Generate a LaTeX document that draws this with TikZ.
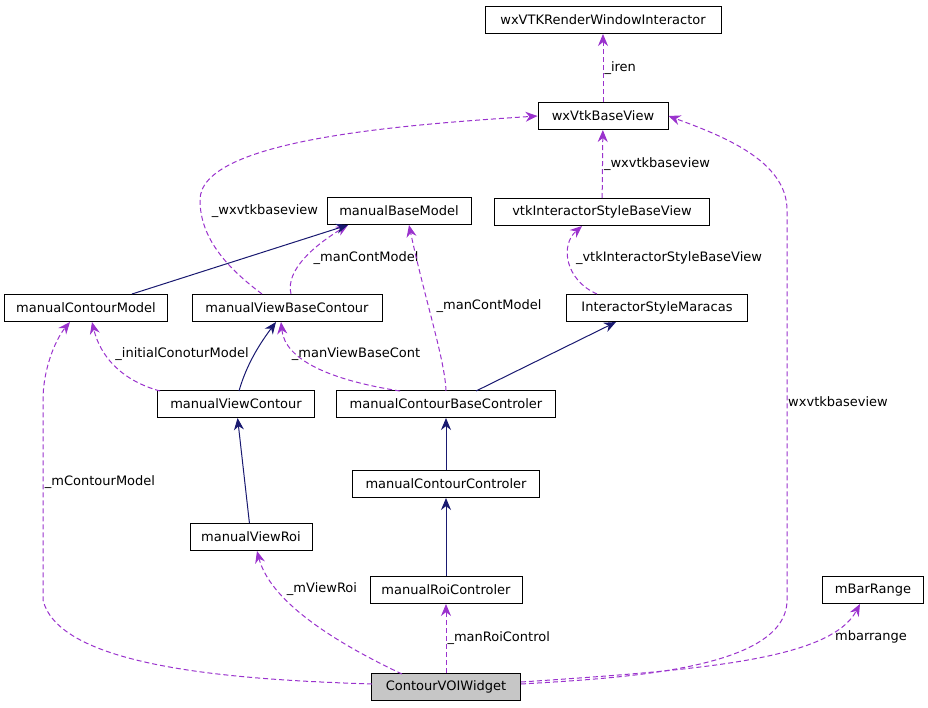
\documentclass[tikz,border=0pt]{standalone}
\usepackage{fontspec}
\setmainfont{DejaVu Sans}
\usetikzlibrary{arrows.meta}
\definecolor{pur}{RGB}{154,50,205}
\definecolor{nav}{RGB}{25,25,112}
\begin{document}
\begin{tikzpicture}[x=1pt,y=-1pt,line width=1pt,
 box/.style={draw,fill=white,inner sep=0,minimum height=27pt,font=\fontsize{13}{15}\selectfont},
 lbl/.style={font=\fontsize{13}{15}\selectfont,inner sep=1pt},
 dep/.style={color=pur,dash pattern=on 5pt off 3pt,-{Stealth[length=12pt,width=10pt]}},
 inh/.style={color=nav,-{Stealth[length=12pt,width=10pt]}}]
\useasboundingbox (0,0) rectangle (928,707);
\node[box,minimum width=236pt] (rwi) at (603,20) {wxVTKRenderWindowInteractor};
\node[box,minimum width=130pt] (bv) at (603,116) {wxVtkBaseView};
\node[box,minimum width=215pt] (isbv) at (602,212) {vtkInteractorStyleBaseView};
\node[box,minimum width=144pt] (mbm) at (399,211) {manualBaseModel};
\node[box,minimum width=163pt] (mcm) at (86,308) {manualContourModel};
\node[box,minimum width=190pt] (mvbc) at (287,308) {manualViewBaseContour};
\node[box,minimum width=181pt] (ism) at (657,308) {InteractorStyleMaracas};
\node[box,minimum width=157pt] (mvc) at (236,404) {manualViewContour};
\node[box,minimum width=219pt] (mcbc) at (446,404) {manualContourBaseControler};
\node[box,minimum width=187pt] (mcc) at (446,484) {manualContourControler};
\node[box,minimum width=122pt] (mvr) at (251,537) {manualViewRoi};
\node[box,minimum width=152pt] (mrc) at (446,590) {manualRoiControler};
\node[box,minimum width=101pt] (mbr) at (873,590) {mBarRange};
\node[box,minimum width=149pt,fill=lightgray!90] (w) at (446,687) {ContourVOIWidget};

\draw[dep] (bv) -- (rwi) node[lbl,text=black,pos=0.5,right] {\_iren};
\draw[dep] (isbv) -- (bv) node[lbl,text=black,pos=0.5,right] {\_wxvtkbaseview};
\draw[dep] (262,294) .. controls (230,270) and (200,240) .. (200,200) .. controls (200,140) and (400,125) .. (bv.west);
\node[lbl] at (265,211) {\_wxvtkbaseview};
\draw[dep] (291,294) .. controls (285,270) and (315,245) .. (348,225);
\node[lbl] at (366,258) {\_manContModel};
\draw[inh] (132,294) -- (348,225);
\draw[dep] (597,294) .. controls (565,280) and (560,245) .. (582,226);
\node[lbl] at (669,258) {\_vtkInteractorStyleBaseView};
\draw[dep] (446,391) .. controls (445,360) and (425,300) .. (409,225);
\node[lbl] at (489,306) {\_manContModel};
\draw[inh] (476,391) -- (616,322);
\draw[dep] (400,391) .. controls (330,380) and (285,360) .. (281,322);
\node[lbl] at (356,354) {\_manViewBaseCont};
\draw[inh] (239,391) .. controls (245,370) and (255,350) .. (276,322);
\draw[dep] (160,391) .. controls (120,380) and (100,355) .. (92,322);
\node[lbl] at (182,354) {\_initialConoturModel};
\draw[inh] (mcc) -- (mcbc);
\draw[inh] (mvr) -- (mvc);
\draw[inh] (mrc) -- (mcc);
\draw[dep] (w) -- (mrc) node[lbl,text=black,pos=0.5,right] {\_manRoiControl};
\draw[dep] (402,674) .. controls (330,640) and (270,600) .. (257,551);
\node[lbl] at (322,589) {\_mViewRoi};
\draw[dep] (372,684) .. controls (250,680) and (60,670) .. (43,600) -- (43,400) .. controls (43,370) and (55,340) .. (70,322);
\node[lbl] at (100,482) {\_mContourModel};
\draw[dep] (521,684) .. controls (620,678) and (787,670) .. (787,600) -- (787,210) .. controls (787,160) and (720,135) .. (bv.east);
\node[lbl] at (838,402) {wxvtkbaseview};
\draw[dep] (521,682) .. controls (700,670) and (830,660) .. (860,604);
\node[lbl] at (871,637) {mbarrange};
\end{tikzpicture}
\end{document}
